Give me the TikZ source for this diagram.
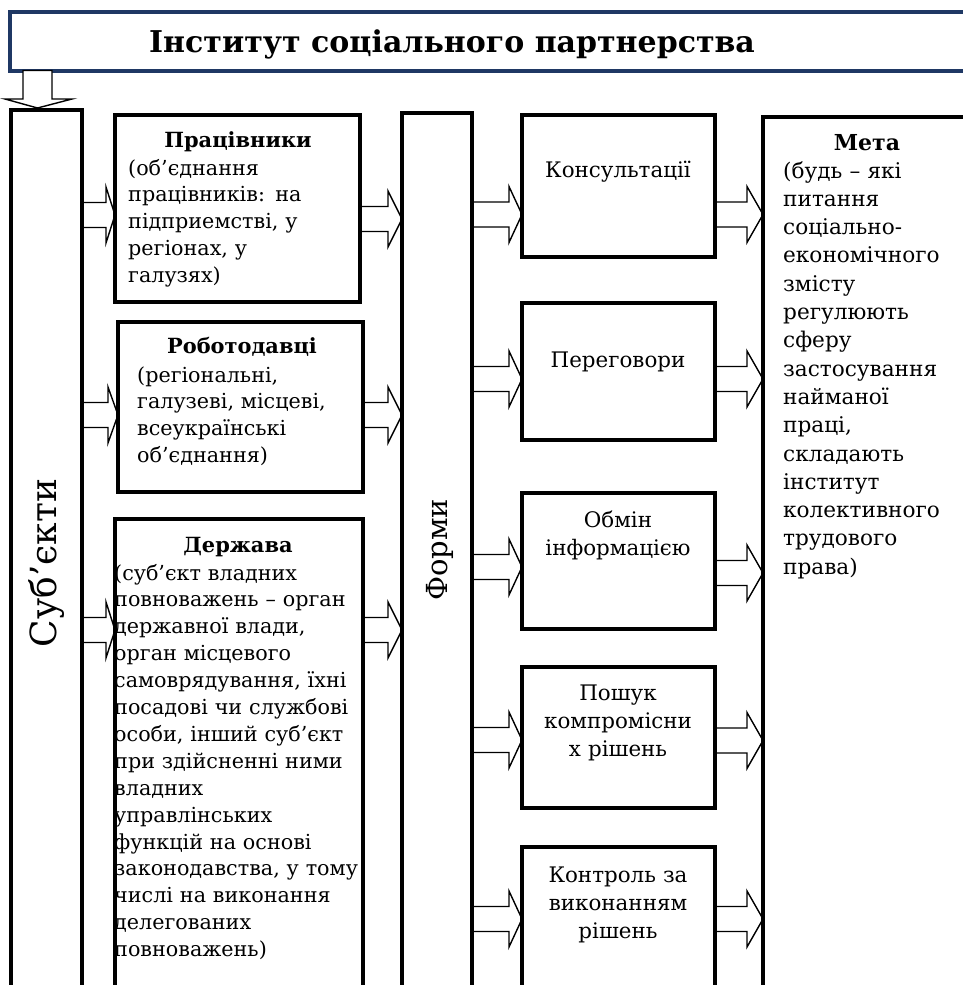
\documentclass[tikz,border=0pt]{standalone}
\usepackage{fontspec}
\setmainfont{DejaVu Serif}
\usetikzlibrary{calc}
\definecolor{navy}{RGB}{31,56,100}
\tikzset{
  box/.style={draw, line width=4pt, inner sep=0pt, outer sep=0pt, anchor=north west},
  arr/.style={draw, line width=1.4pt, line join=miter, fill=white},
  bodytxt/.style={inner sep=0pt, anchor=base west, align=left, text width=260pt, font=\fontsize{20.7pt}{26.9pt}\selectfont},
  metatxt/.style={inner sep=0pt, anchor=base west, align=left, text width=200pt, font=\fontsize{21.6pt}{28.3pt}\selectfont},
  headtxt/.style={inner sep=0pt, anchor=base, font=\bfseries\fontsize{20.9pt}{27pt}\selectfont},
  ctxt/.style={inner sep=0pt, anchor=base, align=center, text width=190pt, font=\fontsize{21.4pt}{28pt}\selectfont},
  rottxt/.style={inner sep=0pt, rotate=90, font=\fontsize{36pt}{40pt}\selectfont},
}
\newcommand\barrow[4]{\draw[arr] let \p1=(#1.east), \p2=(#2.west) in
  (\x1,{-#3pt+12.5pt}) -- ({\x2-#4pt},{-#3pt+12.5pt}) -- ({\x2-#4pt},{-#3pt+28pt}) --
  (\x2,{-#3pt}) -- ({\x2-#4pt},{-#3pt-28pt}) -- ({\x2-#4pt},{-#3pt-12.5pt}) --
  (\x1,{-#3pt-12.5pt}) -- cycle;}
\begin{document}
\begin{tikzpicture}[x=1pt,y=-1pt]
\useasboundingbox (0,0) rectangle (963,985);
\clip (0,0) rectangle (963,985);
% box geometry
\path
  (10,12) node[box, draw=navy, minimum width=975pt, minimum height=58.5pt] (title) {}
  (10.5,110) node[box, draw=none, minimum width=71.5pt, minimum height=900pt] (subj) {}
  (115,115) node[box, draw=none, minimum width=245pt, minimum height=187pt] (prac) {}
  (118,322) node[box, draw=none, minimum width=245pt, minimum height=170pt] (robo) {}
  (115,519) node[box, draw=none, minimum width=248pt, minimum height=500pt] (derzh) {}
  (402,113) node[box, draw=none, minimum width=70pt, minimum height=900pt] (formy) {}
  (522,115) node[box, draw=none, minimum width=193pt, minimum height=142pt] (kons) {}
  (522,303) node[box, draw=none, minimum width=193pt, minimum height=137pt] (perh) {}
  (522,493) node[box, draw=none, minimum width=193pt, minimum height=136pt] (obmin) {}
  (522,667) node[box, draw=none, minimum width=193pt, minimum height=141pt] (poshuk) {}
  (522,847) node[box, draw=none, minimum width=193pt, minimum height=200pt] (kontrol) {}
  (763,117) node[box, draw=none, minimum width=300pt, minimum height=900pt] (meta) {};
% arrows
\draw[arr] (23,70.5) -- (23,99) -- (5,99) -- (37.5,108) -- (72,99) -- (52,99) -- (52,70.5) -- cycle;
\barrow{subj}{prac}{215}{9}
\barrow{subj}{robo}{415}{10}
\barrow{subj}{derzh}{630}{9}
\barrow{prac}{formy}{219}{14}
\barrow{robo}{formy}{415}{14}
\barrow{derzh}{formy}{630}{14}
\barrow{formy}{kons}{214.5}{13}
\barrow{formy}{perh}{379}{13}
\barrow{formy}{obmin}{567}{13}
\barrow{formy}{poshuk}{740}{13}
\barrow{formy}{kontrol}{919}{13}
\barrow{kons}{meta}{214.5}{16}
\barrow{perh}{meta}{379}{16}
\barrow{obmin}{meta}{573}{16}
\barrow{poshuk}{meta}{740.5}{16}
\barrow{kontrol}{meta}{919}{16}
% box outlines
\foreach \b in {subj,prac,robo,derzh,formy,kons,perh,obmin,poshuk,kontrol,meta}
  \draw[line width=4pt] (\b.north west) rectangle (\b.south east);
% texts
\node[inner sep=0pt, anchor=base, font=\bfseries\fontsize{30pt}{36pt}\selectfont] (titletxt) at (452,52) {Інститут соціального партнерства};
\node[rottxt] (subjtxt) at (47,563) {Суб’єкти};
\node[rottxt, font=\fontsize{29pt}{34pt}\selectfont] (formytxt) at (440,550) {Форми};
\node[headtxt] (prach) at (238,147) {Працівники};
\node[bodytxt] (pract) at (128,175) {(об’єднання\\працівників: на\\підприемстві, у\\регіонах, у\\галузях)};
\node[headtxt] (roboh) at (242,353) {Роботодавці};
\node[bodytxt] (robot) at (137,382) {(регіональні,\\галузеві, місцеві,\\всеукраїнські\\об’єднання)};
\node[headtxt] (derzhh) at (238,552) {Держава};
\node[bodytxt] (derzht) at (114,580) {(суб’єкт владних\\повноважень – орган\\державної влади,\\орган місцевого\\самоврядування, їхні\\посадові чи службові\\особи, інший суб’єкт\\при здійсненні ними\\владних\\управлінських\\функцій на основі\\законодавства, у тому\\числі на виконання\\делегованих\\повноважень)};
\node[ctxt] (konst) at (618,177) {Консультації};
\node[ctxt] (perht) at (618,367) {Переговори};
\node[ctxt] (obmint) at (618,527) {Обмін\\інформацією};
\node[ctxt] (poshukt) at (618,700) {Пошук\\компромісни\\х рішень};
\node[ctxt] (kontrolt) at (618,882) {Контроль за\\виконанням\\рішень};
\node[headtxt, font=\bfseries\fontsize{22pt}{28pt}\selectfont] (metah) at (867,150) {Мета};
\node[metatxt] (metat) at (783,178) {(будь – які\\питання\\соціально-\\економічного\\змісту\\регулюють\\сферу\\застосування\\найманої\\праці,\\складають\\інститут\\колективного\\трудового\\права)};
\end{tikzpicture}
\end{document}
